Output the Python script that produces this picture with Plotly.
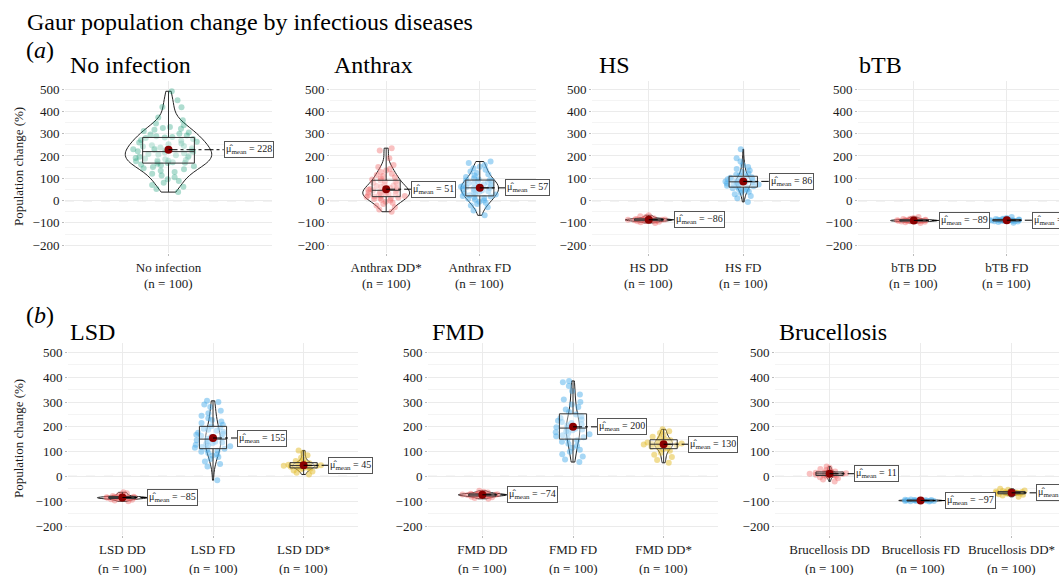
import plotly.graph_objects as go

W, H = 1059, 575
FONT = "Liberation Serif, Times New Roman, serif"

# ---------------- data ----------------
main_title = "Gaur population change by infectious diseases"
row_labels = ["(<i>a</i>)", "(<i>b</i>)"]
panel_titles = ["No infection", "Anthrax", "HS", "bTB", "LSD", "FMD", "Brucellosis"]
panel_categories = [
    ["No infection"],
    ["Anthrax DD*", "Anthrax FD"],
    ["HS DD", "HS FD"],
    ["bTB DD", "bTB FD"],
    ["LSD DD", "LSD FD", "LSD DD*"],
    ["FMD DD", "FMD FD", "FMD DD*"],
    ["Brucellosis DD", "Brucellosis FD", "Brucellosis DD*"],
]
sample_sizes = [[100], [100, 100], [100, 100], [100, 100],
                [100, 100, 100], [100, 100, 100], [100, 100, 100]]
panel_means = [[228], [51, 57], [-86, 86], [-89, -88],
               [-85, 155, 45], [-74, 200, 130], [11, -97, -66]]
group_kinds = [["none"], ["dd", "fd"], ["dd", "fd"], ["dd", "fd"],
               ["dd", "fd", "dds"], ["dd", "fd", "dds"], ["dd", "fd", "dds"]]
y_tick_values = [-200, -100, 0, 100, 200, 300, 400, 500]
y_title = "Population change (%)"

no_infection = [490, 450, 420, 418, 372, 360, 345, 338, 330, 325, 322, 318, 312, 305, 300,
                296, 292, 288, 285, 283, 280, 276, 272, 268, 264, 260, 256, 252, 248, 245,
                242, 238, 235, 232, 230, 228, 226, 224, 221, 218, 215, 212, 209, 206, 203,
                200, 197, 194, 191, 188, 185, 182, 180, 178, 176, 174, 172, 170, 168, 165,
                162, 158, 154, 150, 145, 140, 134, 128, 120, 112, 104, 96, 88, 80, 70, 62,
                52, 38]
anthrax_dd = [235, 225, 190, 160, 150, 142, 135, 128, 120, 115, 110, 105, 100, 95, 90, 86,
              84, 80, 76, 72, 68, 65, 62, 58, 55, 52, 50, 48, 46, 44, 42, 40, 38, 36, 34,
              32, 30, 28, 26, 24, 22, 20, 18, 16, 14, 12, 10, 7, 4, 0, -5, -10, -15, -22,
              -30, -40, -50]
anthrax_fd = [175, 168, 160, 152, 145, 138, 130, 124, 118, 112, 106, 100, 96, 92, 90, 88,
              85, 82, 79, 76, 73, 70, 67, 64, 62, 60, 58, 56, 54, 52, 50, 48, 45, 42, 39,
              36, 33, 30, 27, 24, 21, 18, 15, 12, 8, 4, 0, -5, -10, -15, -22, -30, -45, -66]
hs_dd = [-66, -70, -74, -77, -79, -81, -82, -83, -84, -85, -85, -86, -86, -87, -87, -88,
         -88, -89, -90, -91, -92, -93, -95, -97, -100]
hs_fd = [230, 190, 175, 160, 150, 142, 135, 128, 122, 116, 112, 108, 105, 102, 99, 96, 94,
         92, 90, 88, 86, 85, 84, 83, 82, 80, 78, 76, 74, 72, 70, 67, 64, 61, 58, 55, 52, 48,
         44, 40, 35, 28, 20, 10, -6]
btb_dd = [-74, -78, -81, -83, -85, -86, -87, -88, -88, -89, -89, -90, -90, -91, -91, -92,
          -93, -94, -95, -97, -100]
btb_fd = [-74, -78, -81, -83, -84, -85, -86, -87, -87, -88, -88, -89, -89, -90, -90, -91,
          -92, -93, -94, -96, -99]
lsd_dd = [-64, -68, -72, -76, -79, -81, -82, -83, -84, -85, -85, -86, -86, -87, -87, -88,
          -89, -90, -92, -94, -97, -100]
lsd_fd = [305, 300, 290, 280, 265, 255, 245, 235, 228, 222, 215, 208, 202, 197, 192, 188,
          184, 180, 176, 172, 168, 164, 160, 156, 152, 149, 146, 143, 140, 137, 134, 131,
          128, 125, 122, 119, 116, 112, 108, 104, 100, 95, 90, 84, 78, 70, 60, 50, 40, -15]
lsd_dd_star = [105, 95, 85, 75, 68, 62, 58, 55, 53, 51, 49, 47, 46, 45, 44, 43, 42, 41, 40,
               39, 37, 35, 33, 31, 28, 24, 20, 15, 8]
fmd_dd = [-58, -62, -65, -67, -69, -70, -71, -72, -73, -73, -74, -74, -75, -75, -76, -77,
          -78, -79, -80, -82, -84, -87, -90]
fmd_fd = [385, 380, 365, 345, 330, 310, 300, 290, 280, 270, 260, 250, 242, 236, 230, 225,
          220, 215, 210, 206, 202, 198, 195, 192, 189, 186, 182, 178, 174, 170, 166, 162,
          158, 152, 146, 140, 132, 124, 116, 108, 100, 90, 80, 68, 58]
fmd_dd_star = [190, 182, 175, 168, 160, 154, 150, 146, 143, 140, 137, 135, 133, 131, 129,
               127, 125, 123, 120, 117, 114, 110, 104, 96, 88, 78, 66, 55]
bru_dd = [40, 35, 30, 26, 22, 20, 18, 16, 15, 14, 13, 12, 11, 10, 9, 8, 7, 6, 5, 4, 2, 0,
          -3, -7, -12, -20]
bru_fd = [-93, -94, -95, -95, -96, -96, -97, -97, -97, -98, -98, -99, -99, -100, -101]
bru_dd_star = [-50, -54, -57, -59, -61, -63, -64, -65, -66, -66, -67, -68, -69, -70, -72,
               -74, -77, -82]

panel_data = [
    [no_infection],
    [anthrax_dd, anthrax_fd],
    [hs_dd, hs_fd],
    [btb_dd, btb_fd],
    [lsd_dd, lsd_fd, lsd_dd_star],
    [fmd_dd, fmd_fd, fmd_dd_star],
    [bru_dd, bru_fd, bru_dd_star],
]

# ---------------- styles / layout ----------------
point_colors = {
    "none": "rgba(27,158,119,0.35)",
    "dd": "rgba(240,100,100,0.40)",
    "fd": "rgba(80,175,235,0.50)",
    "dds": "rgba(228,188,40,0.50)",
}
violin_widths = [[0.5], [0.5, 0.4], [0.5, 0.16], [0.5, 0.3],
                 [0.55, 0.17, 0.25], [0.53, 0.15, 0.2], [0.15, 0.48, 0.2]]
panel_px = [(65, 272), (330, 536), (592, 800), (858, 1059),
            (68, 358), (428, 718), (775, 1059)]
panel_xrange = [[-0.6, 0.6], [-0.6, 1.6], [-0.6, 1.6], [-0.6, -0.6 + 201 / 93],
                [-0.6, 2.6], [-0.6, 2.6], [-0.6, -0.6 + 284 / 91]]
panel_row = [0, 0, 0, 0, 1, 1, 1]
row_ypx = [(81, 253), (343, 535)]
row_yrange = [[-235, 536], [-236, 538]]
row_title_y = [65, 332]
row_label_y = [50, 315]
row_n_y = [284, 568]
row_ytitle_y = [167, 439]
title_x = [68, 332, 597, 857, 68, 430, 777]
label_offsets = [0.32, 0.27, 0.27, 0.27, 0.27, 0.27, 0.27]


def fmt(v):
    return ("−" + str(abs(v))) if v < 0 else str(v)


fig = go.Figure()
layout = dict(
    width=W, height=H, margin=dict(l=0, r=0, t=0, b=0),
    paper_bgcolor="white", plot_bgcolor="white", showlegend=False,
    violinmode="overlay", boxmode="overlay",
    font=dict(family=FONT, color="#1a1a1a"),
)
annotations = []
shapes = []

for p in range(7):
    ax = "" if p == 0 else str(p + 1)
    xref, yref = "x" + ax, "y" + ax
    r = panel_row[p]
    l_px, r_px = panel_px[p]
    t_px, b_px = row_ypx[r]
    cats = panel_categories[p]
    layout["xaxis" + ax] = dict(
        domain=[l_px / W, r_px / W], anchor=yref, type="category",
        categoryorder="array", categoryarray=cats, range=panel_xrange[p],
        showgrid=True, gridcolor="#EBEBEB", gridwidth=1, zeroline=False,
        showline=False, ticks="outside", ticklen=2, tickcolor="#BBBBBB",
        tickfont=dict(family=FONT, size=13, color="#1a1a1a"), fixedrange=True,
    )
    layout["yaxis" + ax] = dict(
        domain=[1 - b_px / H, 1 - t_px / H], anchor=xref, range=row_yrange[r],
        tickvals=y_tick_values, showgrid=True, gridcolor="#EBEBEB", gridwidth=1,
        minor=dict(dtick=50, tick0=0, showgrid=True, gridcolor="#F4F4F4", gridwidth=1),
        zeroline=False, showline=False, ticks="outside", ticklen=2, tickcolor="#BBBBBB",
        tickfont=dict(family=FONT, size=13, color="#1a1a1a"), fixedrange=True,
    )
    shapes.append(dict(type="line", xref=xref + " domain", yref=yref, x0=0, x1=1,
                       y0=0, y1=0, line=dict(color="#333333", width=1, dash="dash"),
                       layer="below"))
    annotations.append(dict(text=panel_titles[p], xref="paper", yref="paper",
                            x=title_x[p] / W, y=1 - row_title_y[r] / H, xanchor="left",
                            yanchor="middle", showarrow=False,
                            font=dict(family=FONT, size=24, color="black")))
    for i, cat in enumerate(cats):
        vals = panel_data[p][i]
        kind = group_kinds[p][i]
        m = panel_means[p][i]
        fig.add_trace(go.Violin(
            x=[cat] * len(vals), y=vals, xaxis=xref, yaxis=yref,
            width=violin_widths[p][i], scalemode="width", spanmode="hard",
            points=False, box_visible=False, meanline_visible=False,
            line=dict(color="#222222", width=1), fillcolor="rgba(255,255,255,0)",
            hoverinfo="skip",
        ))
        fig.add_trace(go.Box(
            x=[cat] * len(vals), y=vals, xaxis=xref, yaxis=yref, width=0.45,
            boxpoints="all", jitter=1, pointpos=0,
            marker=dict(color=point_colors[kind], size=6, line=dict(width=0)),
            line=dict(width=0, color="rgba(0,0,0,0)"), fillcolor="rgba(0,0,0,0)",
            hoverinfo="skip",
        ))
        fig.add_trace(go.Box(
            x=[cat] * len(vals), y=vals, xaxis=xref, yaxis=yref, width=0.3,
            boxpoints=False, whiskerwidth=0,
            line=dict(color="#333333", width=1), fillcolor="rgba(255,255,255,0.35)",
            hoverinfo="skip",
        ))
        fig.add_trace(go.Scatter(
            x=[cat], y=[m], xaxis=xref, yaxis=yref, mode="markers",
            marker=dict(color="#8B0000", size=8), hoverinfo="skip",
        ))
        off = label_offsets[p]
        shapes.append(dict(type="line", xref=xref, yref=yref, x0=i, x1=i + off,
                           y0=m, y1=m, line=dict(color="black", width=1, dash="dashdot")))
        annotations.append(dict(
            text="μ̂<sub>mean</sub> = " + fmt(m), xref=xref, yref=yref, x=i + off, y=m,
            xanchor="left", yanchor="middle", showarrow=False,
            font=dict(family=FONT, size=10, color="#222222"),
            bgcolor="white", bordercolor="#555555", borderwidth=1, borderpad=1,
        ))
        annotations.append(dict(
            text="(n = %d)" % sample_sizes[p][i], xref=xref, yref="paper", x=i,
            y=1 - row_n_y[r] / H, xanchor="center", yanchor="middle", showarrow=False,
            font=dict(family=FONT, size=13, color="#1a1a1a"),
        ))

annotations.append(dict(text=main_title, xref="paper", yref="paper", x=25 / W, y=1 - 22 / H,
                        xanchor="left", yanchor="middle", showarrow=False,
                        font=dict(family=FONT, size=24, color="black")))
for r in range(2):
    annotations.append(dict(text=row_labels[r], xref="paper", yref="paper", x=24 / W,
                            y=1 - row_label_y[r] / H, xanchor="left", yanchor="middle",
                            showarrow=False, font=dict(family=FONT, size=24, color="black")))
    annotations.append(dict(text=y_title, xref="paper", yref="paper", x=18 / W,
                            y=1 - row_ytitle_y[r] / H, xanchor="center", yanchor="middle",
                            textangle=-90, showarrow=False,
                            font=dict(family=FONT, size=13, color="#1a1a1a")))

layout["annotations"] = annotations
layout["shapes"] = shapes
fig.update_layout(**layout)
fig.write_html("out.html")
